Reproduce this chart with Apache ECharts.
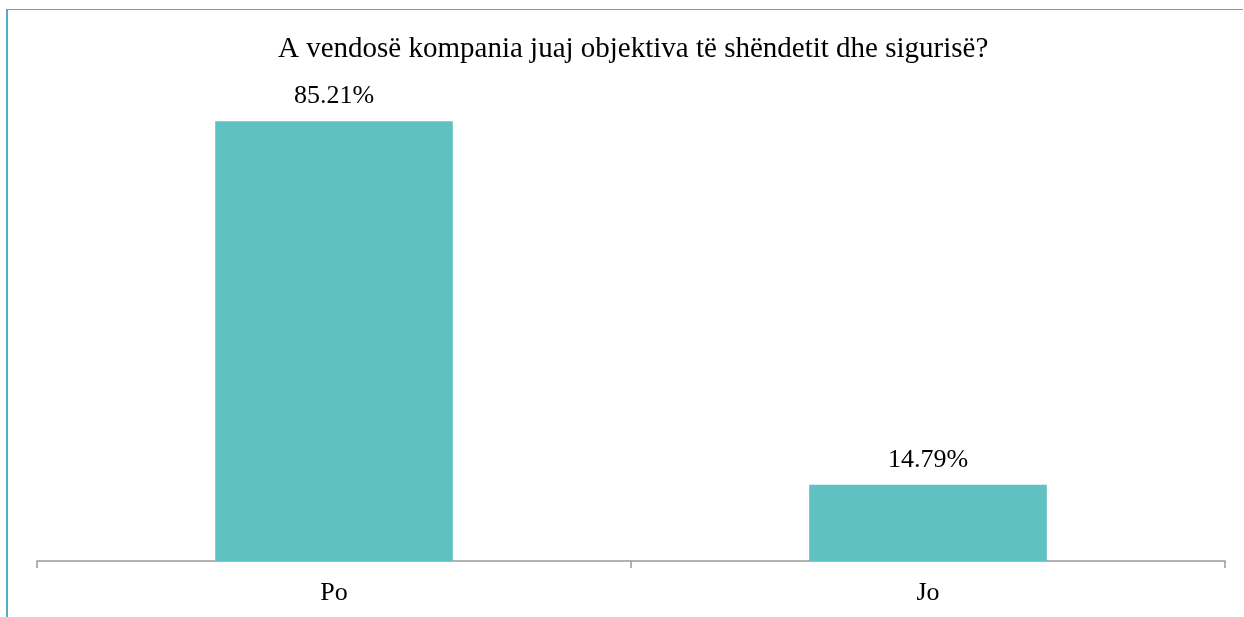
<!DOCTYPE html>
<html>
<head>
<meta charset="utf-8">
<script src="https://cdn.jsdelivr.net/npm/echarts@6/dist/echarts.min.js"></script>
<style>
  html, body { margin: 0; padding: 0; background: #fff; }
  #frame { position: absolute; left: 6px; top: 9px; right: 1px; bottom: 0; border-left: 2px solid #4FADC9; border-top: 1px solid #4FADC9; }
  #chart { position: absolute; left: 0; top: 0; width: 1244px; height: 617px; }
</style>
</head>
<body>
<div id="frame"></div>
<div id="chart"></div>
<script>
// 数据
const titleText = 'A vendosë kompania juaj objektiva të shëndetit dhe sigurisë?'
const categories = ['Po', 'Jo']
const values = [85.21, 14.79]

const chart = echarts.init(document.getElementById('chart'))
const font = '"Liberation Serif", "Times New Roman", serif'

chart.setOption({
  title: {
    text: titleText,
    left: 273,
    top: 30,
    textStyle: { fontFamily: font, fontSize: 29, fontWeight: 'normal', color: '#000' }
  },
  grid: { left: 37, right: 19, top: 45, bottom: 56 },
  xAxis: {
    type: 'category',
    data: categories,
    axisLine: { lineStyle: { color: '#999', width: 1.5 } },
    axisTick: { show: true, length: 7, lineStyle: { color: '#999', width: 1.5 } },
    axisLabel: { fontFamily: font, fontSize: 26, color: '#000', margin: 19 }
  },
  yAxis: {
    type: 'value',
    min: 0,
    max: 100,
    show: false
  },
  series: [
    {
      type: 'bar',
      data: values,
      barWidth: '40%',
      itemStyle: { color: '#60C1C2' },
      label: {
        show: true,
        position: 'top',
        distance: 12,
        formatter: p => p.value.toFixed(2) + '%',
        fontFamily: font,
        fontSize: 26,
        color: '#000'
      }
    }
  ]
})
</script>
</body>
</html>
